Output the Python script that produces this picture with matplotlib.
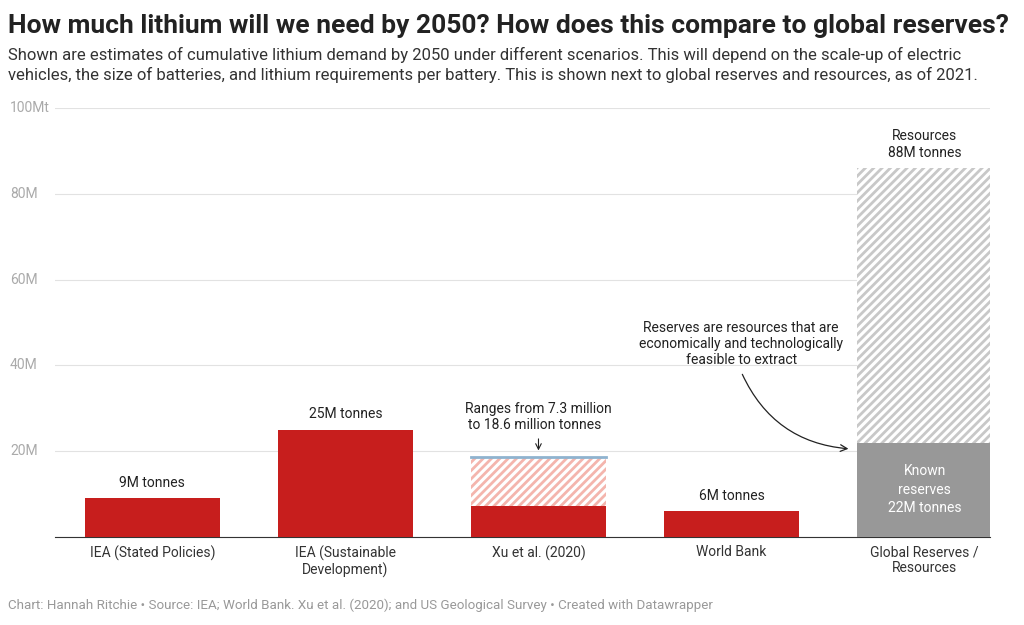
import matplotlib
matplotlib.use("Agg")
import matplotlib.pyplot as plt
from matplotlib.patches import FancyArrowPatch

plt.rcParams['font.family'] = ['Roboto', 'DejaVu Sans']
plt.rcParams['hatch.linewidth'] = 2.0

categories = ["IEA (Stated Policies)", "IEA (Sustainable\nDevelopment)", "Xu et al. (2020)", "World Bank", "Global Reserves /\nResources"]
base_values = [9, 25, 7.3, 6, 22]
upper_values = [None, None, 18.6, None, 86]
bar_labels = ["9M tonnes", "25M tonnes", "Ranges from 7.3 million\nto 18.6 million tonnes  ", "6M tonnes", "Resources\n88M tonnes"]
yticks = [0, 20, 40, 60, 80, 100]
yticklabels = ["", "20M", "40M", "60M", "80M", "100Mt"]

RED = "#c71e1d"
GREY = "#989898"

fig = plt.figure(figsize=(10.24, 6.25), dpi=100)
ax = fig.add_axes([0.054, 0.141, 0.913, 0.686])
x = list(range(len(categories)))
w = 0.70
ax.set_xlim(-0.503, 4.34)
ax.set_ylim(0, 100)

for i in x:
    col = GREY if i == 4 else RED
    ax.bar(i, base_values[i], width=w, color=col, zorder=3)
    if upper_values[i] is not None:
        hcol = "#f4b5ad" if i == 2 else "#c8c8c8"
        ax.bar(i, upper_values[i] - base_values[i], bottom=base_values[i], width=w,
               color="white", edgecolor=hcol, hatch="////", linewidth=0, zorder=3)
    top = upper_values[i] if upper_values[i] is not None else base_values[i]
    if i == 2:
        ax.plot([i - w/2, i + w/2], [18.6, 18.6], color="#8fb3cf", lw=2, zorder=4)
        ax.text(i, 24.5, bar_labels[i], ha="center", va="bottom", fontsize=10, color="#222")
        ax.annotate("", xy=(i, 19.5), xytext=(i, 23.5),
                    arrowprops=dict(arrowstyle="->", color="#222", lw=0.8))
    else:
        ax.text(i, top + 2, bar_labels[i], ha="center", va="bottom", fontsize=10, color="#222")

ax.text(4, 11, "Known\nreserves\n22M tonnes", ha="center", va="center", fontsize=10, color="white", zorder=5, linespacing=1.4)
ax.text(3.05, 45, "Reserves are resources that are\neconomically and technologically\nfeasible to extract",
        ha="center", va="center", fontsize=10, color="#222")
arr = FancyArrowPatch((3.05, 38.5), (3.62, 20.5), connectionstyle="arc3,rad=0.3",
                      arrowstyle="->", mutation_scale=12, color="#222", lw=0.9)
ax.add_patch(arr)

ax.set_yticks(yticks)
ax.set_yticklabels([])
for t, l in zip(yticks, yticklabels):
    fy = 0.141 + 0.686 * t / 100
    fig.text(10 / 1024, fy, l, ha="left", va="center", fontsize=10, color="#aaaaaa")
ax.yaxis.grid(True, color="#e2e2e2", lw=0.8, zorder=0)
ax.tick_params(axis="y", length=0)
ax.set_xticks(x)
ax.set_xticklabels(categories, fontsize=10, color="#333")
ax.tick_params(axis="x", length=0, pad=6)
for s in ["top", "right", "left"]:
    ax.spines[s].set_visible(False)
ax.spines["bottom"].set_color("#333")
ax.set_axisbelow(True)

fig.text(0.008, 0.978, "How much lithium will we need by 2050? How does this compare to global reserves?",
         fontsize=19, fontweight="bold", color="#222", va="top")
fig.text(0.008, 0.925, "Shown are estimates of cumulative lithium demand by 2050 under different scenarios. This will depend on the scale-up of electric\nvehicles, the size of batteries, and lithium requirements per battery. This is shown next to global reserves and resources, as of 2021.",
         fontsize=12, color="#333", va="top", linespacing=1.3)
fig.text(0.008, 0.02, "Chart: Hannah Ritchie • Source: IEA; World Bank. Xu et al. (2020); and US Geological Survey • Created with Datawrapper",
         fontsize=9.6, color="#999", va="bottom")

fig.savefig("out.png", dpi=100)
